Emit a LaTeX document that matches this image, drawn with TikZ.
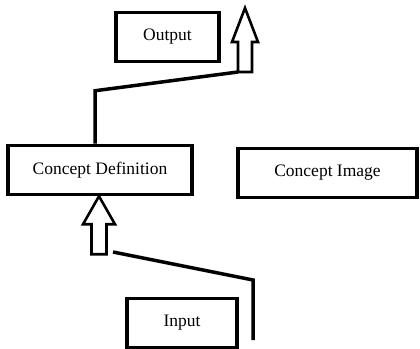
\documentclass[tikz,border=0pt]{standalone}
\usepackage{fontspec}
\setmainfont{Liberation Serif}
\usetikzlibrary{positioning}

\tikzset{
  conceptbox/.style={draw, line width=3.5pt, inner sep=0pt, minimum height=49pt,
    font=\fontsize{17.5}{20}\selectfont},
  link/.style={line width=3.5pt, line join=miter},
  hollowarrow/.style={draw, line width=2.6pt, fill=white, line join=miter},
}

\begin{document}
\begin{tikzpicture}[x=1pt, y=1pt]
  \useasboundingbox (0,0) rectangle (420,348);

  % the four boxes
  \node[conceptbox, minimum width=103pt] (output) at (167.5,311) {Output};
  \node[conceptbox, minimum width=184pt] (definition) at (100,178) {Concept Definition};
  \node[conceptbox, minimum width=179pt] (image) at (327.5,175) {Concept Image};
  \node[conceptbox, minimum width=110pt] (input) at (182,25) {Input};

  % open arrow pointing up into the definition box
  \coordinate (intip) at ([xshift=-1pt]definition.south);
  \draw[hollowarrow] (intip) -- ++(-16,-28) -- ++(8.5,0) -- ++(0,-30)
    -- ++(15,0) -- ++(0,30) -- ++(8.5,0) -- cycle;

  % open arrow pointing up at the top right
  \coordinate (outtip) at (245,340);
  \draw[hollowarrow] (outtip) -- ++(-13,-34) -- ++(6,0) -- ++(0,-30) coordinate (outtail)
    -- ++(14,0) -- ++(0,30) -- ++(6,0) -- cycle;

  % connecting lines
  \coordinate (feed) at (113,96);
  \draw[link] (feed) -- ++(140,-28) -- ++(0,-60);
  \draw[link] ([xshift=-5pt]definition.north) -- ++(0,53) -- (outtail);
\end{tikzpicture}
\end{document}
